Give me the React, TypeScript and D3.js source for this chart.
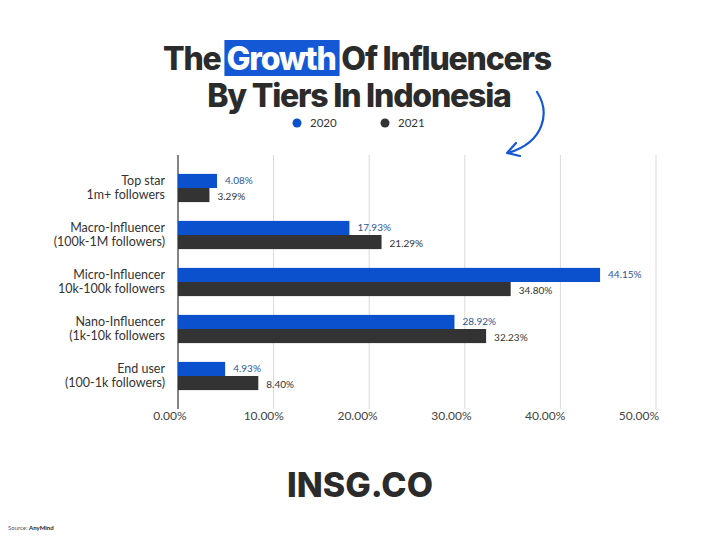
import React, { useLayoutEffect, useRef, useState } from "react";
import * as d3 from "d3";

const categories = [
  ["Top star", "1m+ followers"],
  ["Macro-Influencer", "(100k-1M followers)"],
  ["Micro-Influencer", "10k-100k followers"],
  ["Nano-Influencer", "(1k-10k followers"],
  ["End user", "(100-1k followers)"],
];
const values2020 = [4.08, 17.93, 44.15, 28.92, 4.93];
const values2021 = [3.29, 21.29, 34.8, 32.23, 8.4];
const seriesNames = ["2020", "2021"];
const xTicks = [0, 10, 20, 30, 40, 50];

const BLUE = "#0b50cc";
const DARK = "#333333";

export default function App() {
  const x = d3.scaleLinear().domain([0, 50]).range([178, 656]);
  const xLabel = d3.scaleLinear().domain([0, 50]).range([170, 639]);
  const y = d3
    .scaleBand<number>()
    .domain(d3.range(categories.length))
    .range([164.5, 399.5])
    .paddingInner(0.4)
    .paddingOuter(0.2);
  const bh = y.bandwidth() / 2;
  const fmt = (v: number) => d3.format(".2f")(v) + "%";
  const font = "Lato, 'Open Sans', sans-serif";
  const titleFont = "Inter, 'Open Sans', sans-serif";

  const hlRef = useRef<SVGTSpanElement>(null);
  const [hl, setHl] = useState({ x: 226, w: 117 });
  useLayoutEffect(() => {
    const el = hlRef.current;
    if (el) {
      const b = el.getBBox();
      setHl({ x: b.x - 2, w: b.width + 6 });
    }
  }, []);

  return (
    <svg
      width={720}
      height={540}
      style={{ position: "absolute", left: 0, top: 0, background: "#fff" }}
    >
      {/* title */}
      <rect x={hl.x} y={40} width={hl.w} height={36} fill="#1558d6" />
      <text
        x={357}
        y={70}
        textAnchor="middle"
        fontFamily={titleFont}
        fontWeight={800}
        fontSize={32}
        letterSpacing={-1.2}
        fill="#2b2b2b"
      >
        The <tspan ref={hlRef} fill="#ffffff">Growth</tspan> Of Influencers
      </text>
      <text
        x={359}
        y={107}
        textAnchor="middle"
        fontFamily={titleFont}
        fontWeight={800}
        fontSize={32}
        letterSpacing={-1.2}
        fill="#2b2b2b"
      >
        By Tiers In Indonesia
      </text>

      {/* arrow */}
      <path
        d="M537,92 C550,112 545,142 508,153"
        fill="none"
        stroke="#1558d6"
        strokeWidth={2.2}
        strokeLinecap="round"
      />
      <path
        d="M516,143 L507,153 L520,156"
        fill="none"
        stroke="#1558d6"
        strokeWidth={2.2}
        strokeLinecap="round"
        strokeLinejoin="round"
      />

      {/* legend */}
      {seriesNames.map((s, i) => (
        <g key={s}>
          <circle cx={297 + i * 88} cy={123} r={4.5} fill={i === 0 ? BLUE : DARK} />
          <text x={310 + i * 88} y={127} fontFamily={font} fontSize={11.5} fill="#333">
            {s}
          </text>
        </g>
      ))}

      {/* gridlines */}
      {xTicks.map((t) => (
        <g key={t}>
          <line
            x1={x(t)}
            x2={x(t)}
            y1={155}
            y2={409}
            stroke={t === 0 ? "#333" : "#d9d9d9"}
            strokeWidth={t === 0 ? 1.2 : 1}
          />
          <text
            x={xLabel(t)}
            y={420}
            textAnchor="middle"
            fontFamily={font}
            fontSize={12}
            fill="#444"
          >
            {fmt(t)}
          </text>
        </g>
      ))}

      {/* bars */}
      {categories.map((c, i) => {
        const y0 = y(i)!;
        return (
          <g key={i}>
            <rect x={x(0)} y={y0} width={x(values2020[i]) - x(0)} height={bh} fill={BLUE} />
            <rect x={x(0)} y={y0 + bh} width={x(values2021[i]) - x(0)} height={bh} fill={DARK} />
            <text
              x={x(values2020[i]) + 8}
              y={y0 + bh / 2 + 3.5}
              fontFamily={font}
              fontSize={10}
              fill="#2f5596"
            >
              {fmt(values2020[i])}
            </text>
            <text
              x={x(values2021[i]) + 8}
              y={y0 + bh + bh / 2 + 5}
              fontFamily={font}
              fontSize={10}
              fill="#333"
            >
              {fmt(values2021[i])}
            </text>
            <text
              x={165}
              y={y0 + bh - 3}
              textAnchor="end"
              fontFamily={font}
              fontSize={12.5}
              fill="#333"
            >
              {c[0]}
            </text>
            <text
              x={165}
              y={y0 + bh + 11}
              textAnchor="end"
              fontFamily={font}
              fontSize={12.5}
              fill="#333"
            >
              {c[1]}
            </text>
          </g>
        );
      })}

      {/* footer */}
      <text
        x={360}
        y={497}
        textAnchor="middle"
        fontFamily={titleFont}
        fontWeight={800}
        fontSize={34}
        letterSpacing={0}
        fill="#2b2b2b"
      >
        INSG.CO
      </text>
      <text x={8} y={530} fontFamily={font} fontSize={6} fill="#555">
        Source: <tspan fontWeight={700} fill="#222">AnyMind</tspan>
      </text>
    </svg>
  );
}
